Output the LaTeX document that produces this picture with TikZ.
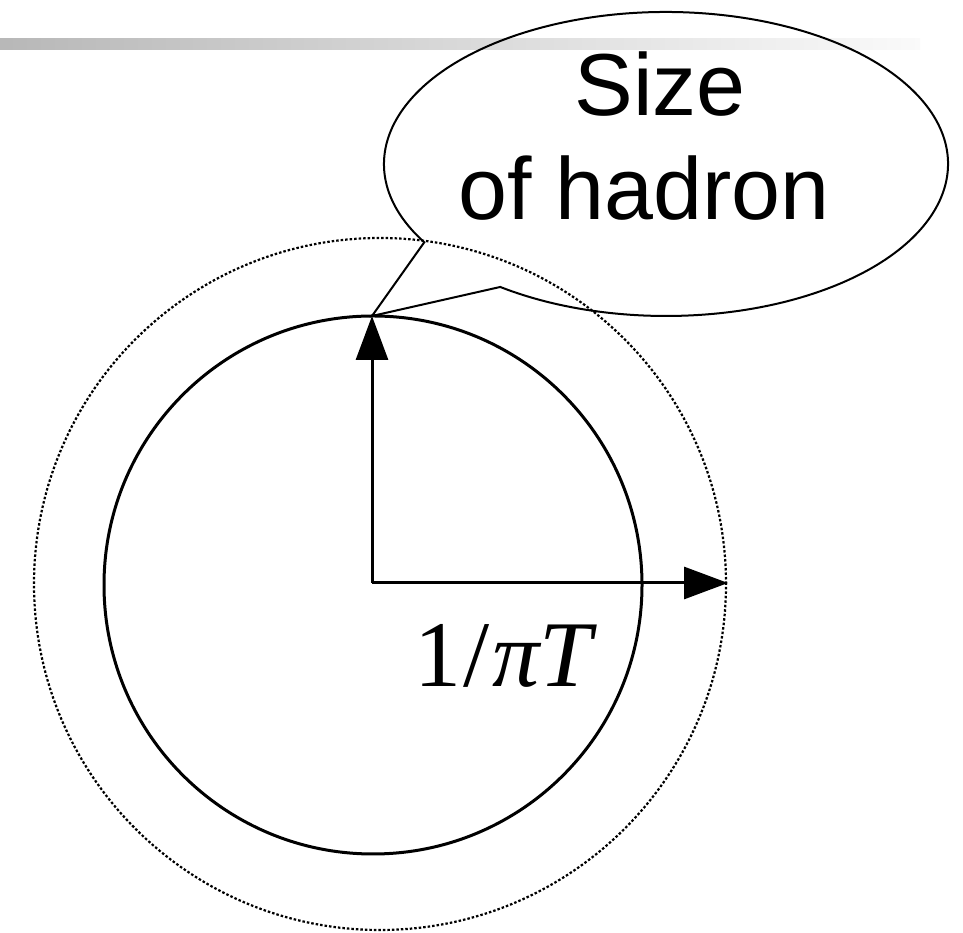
\documentclass[tikz,border=0pt]{standalone}
\usepackage{fontspec}
\setmainfont{Liberation Serif}
\newfontfamily\sansfont{Liberation Sans}
\usetikzlibrary{arrows.meta, calc}

\begin{document}
\begin{tikzpicture}[x=1pt, y=1pt,
		fleche/.style={line width=3pt, -{Triangle[length=44pt, width=32pt]}},
		pointille/.style={line width=2.2pt, dash pattern=on 2.5pt off 2pt}]
				\useasboundingbox (0,0) rectangle (963,933);
				% bande grise en haut
				\shade[left color=black!28, right color=black!2] (0,883) rectangle (920,894);
				% les deux cercles
				\coordinate (O) at (372,350);
				\coordinate (haut) at (372,617);
				\coordinate (droite) at (728,350);
				\draw[line width=3pt] (373,348) circle (269);
				\draw[pointille] (380,349) circle (346);
				% rayons
				\draw[fleche] (O)--(haut);
				\draw[fleche] (O)--(droite);
				% bulle
				\coordinate (ctr) at (666,769);
				\draw[line width=2pt, line join=miter] ($(ctr)+(211:282 and 152)$)
					arc[start angle=211, end angle=-126, x radius=282, y radius=152]
					--(haut)--cycle;
				\node[font=\sansfont\fontsize{88}{104}\selectfont, anchor=base] (taille) at (660,817) {Size};
				\node[font=\sansfont\fontsize{88}{104}\selectfont, anchor=base] (hadron) at (644,713) {of hadron};
				% rayon
				\node[font=\fontsize{94}{110}\selectfont, anchor=base] (rayon) at (506,246) {1\kern2pt/\kern2pt\textit{πT}};
\end{tikzpicture}
\end{document}
